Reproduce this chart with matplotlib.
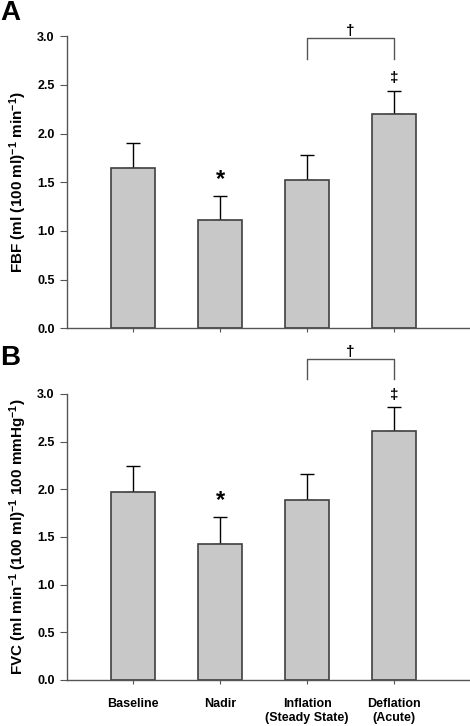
import matplotlib
matplotlib.use("Agg")
import matplotlib.pyplot as plt

plt.rcParams['font.family'] = ['Liberation Sans', 'DejaVu Sans']
plt.rcParams['font.weight'] = 'bold'
plt.rcParams['mathtext.fontset'] = 'custom'
plt.rcParams['mathtext.rm'] = 'Liberation Sans:bold'
plt.rcParams['mathtext.bf'] = 'Liberation Sans:bold'
plt.rcParams['mathtext.default'] = 'bf'

categories = ['Baseline', 'Nadir', 'Inflation\n(Steady State)', 'Deflation\n(Acute)']

# panel A: forearm blood flow
fbf_mean = [1.65, 1.11, 1.52, 2.20]
fbf_sem = [0.25, 0.25, 0.26, 0.24]

# panel B: forearm vascular conductance
fvc_mean = [1.97, 1.43, 1.89, 2.61]
fvc_sem = [0.27, 0.28, 0.27, 0.25]

x = list(range(len(categories)))


def draw_panel(ax, means, sems, bracket_y, leg_y, ylabel, show_xlabels):
    ax.bar(x, means, width=0.5, color='#c8c8c8', edgecolor='#404040', linewidth=1.2, zorder=2)
    ax.errorbar(x, means, yerr=[[0] * len(sems), sems], fmt='none', ecolor='black',
                elinewidth=1.0, capsize=5, capthick=1.0, zorder=1)
    ax.set_xlim(-0.76, 3.87)
    ax.set_ylim(0, 3.0)
    ax.set_yticks([0.0, 0.5, 1.0, 1.5, 2.0, 2.5, 3.0])
    ax.set_yticklabels([f'{v:.1f}' for v in ax.get_yticks()], fontsize=9, fontweight='bold')
    ax.set_xticks(x)
    if show_xlabels:
        ax.set_xticklabels(categories, fontsize=9, fontweight='bold')
    else:
        ax.set_xticklabels([])
    ax.tick_params(axis='y', direction='out', length=5, color='#555555', pad=4)
    ax.tick_params(axis='x', direction='out', length=3, color='#555555', pad=10)
    for s in ['top', 'right']:
        ax.spines[s].set_visible(False)
    for s in ['left', 'bottom']:
        ax.spines[s].set_color('#555555')
        ax.spines[s].set_linewidth(1.0)
    ax.set_ylabel(ylabel, fontsize=11, fontweight='bold', labelpad=6)

    # significance markers
    ax.text(1, means[1] + sems[1] + 0.05, '*', ha='center', va='bottom', fontsize=17, fontweight='bold')
    ax.text(3, means[3] + sems[3] + 0.06, '\u2021', ha='center', va='bottom', fontsize=11)
    ax.plot([2, 2, 3, 3], [leg_y, bracket_y, bracket_y, leg_y], color='#555555',
            linewidth=1.0, clip_on=False)
    ax.text(2.5, bracket_y, '\u2020', ha='center', va='bottom', fontsize=11, clip_on=False)


fig = plt.figure(figsize=(4.7, 7.26), dpi=100)
ax1 = fig.add_axes([0.1426, 0.548, 0.857, 0.402])
ax2 = fig.add_axes([0.1426, 0.0634, 0.857, 0.394])

draw_panel(ax1, fbf_mean, fbf_sem, 2.98, 2.77,
           r'FBF (ml (100 ml)$^{-1}$ min$^{-1}$)', False)
draw_panel(ax2, fvc_mean, fvc_sem, 3.37, 3.16,
           r'FVC (ml min$^{-1}$ (100 ml)$^{-1}$ 100 mmHg$^{-1}$)', True)

fig.text(0.0, 1.0, 'A', fontsize=20, fontweight='bold', ha='left', va='top')
fig.text(0.0, 0.525, 'B', fontsize=20, fontweight='bold', ha='left', va='top')

fig.savefig('out.png', dpi=100)
